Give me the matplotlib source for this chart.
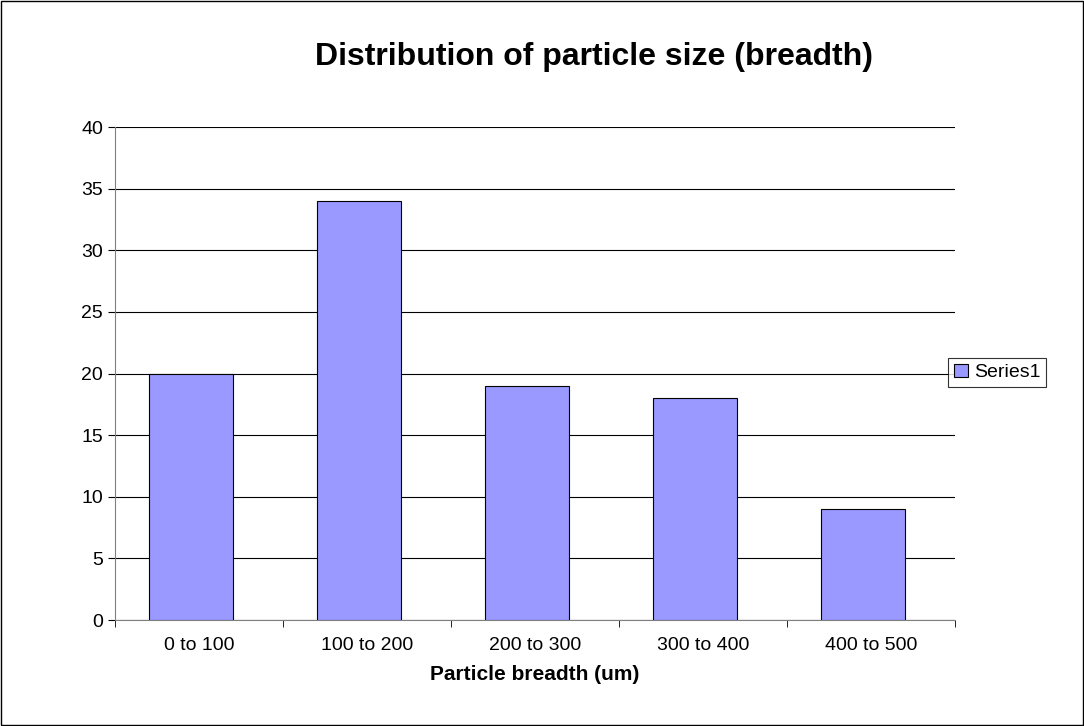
import matplotlib.pyplot as plt
import numpy as np

categories = ["0 to 100", "100 to 200", "200 to 300", "300 to 400", "400 to 500"]
counts = [20, 34, 19, 18, 9]

plt.rcParams['font.family'] = ['Liberation Sans', 'DejaVu Sans']

fig = plt.figure(figsize=(10.84, 7.26), dpi=100)
ax = fig.add_axes([0.1061, 0.146, 0.7749, 0.679])

x = np.arange(len(categories))
ax.bar(x - 0.05, counts, width=0.5, color='#9999FF', edgecolor='black', linewidth=0.8,
       label='Series1', zorder=3)

ax.set_xlim(-0.5, len(categories) - 0.5)
ax.set_ylim(0, 40)
ax.set_yticks(range(0, 41, 5))
ax.yaxis.grid(True, color='black', linewidth=0.8, zorder=0)
ax.set_xticks(x)
ax.set_xticklabels(categories)
ax.set_xticks(np.arange(-0.5, len(categories)), minor=True)
ax.tick_params(axis='x', which='major', length=0, labelsize=14, pad=12)
ax.tick_params(axis='x', which='minor', length=5, direction='out')
ax.tick_params(axis='y', length=5, direction='out', labelsize=14)
for s in ['top', 'right']:
    ax.spines[s].set_visible(False)
ax.spines['left'].set_color('#808080')
ax.spines['bottom'].set_color('#808080')

ax.set_xlabel('Particle breadth (um)', fontsize=15, fontweight='bold', labelpad=8)
fig.text(0.548, 0.922, 'Distribution of particle size (breadth)', ha='center',
         va='center', fontsize=23, fontweight='bold')

leg = fig.legend(loc='center left', bbox_to_anchor=(0.866, 0.487), fontsize=14,
                 frameon=True, fancybox=False, edgecolor='black',
                 handlelength=0.7, handleheight=0.7, handletextpad=0.3,
                 borderpad=0.3)
leg.get_frame().set_linewidth(0.8)

fig.patches.append(plt.Rectangle((0.001, 0.001), 0.998, 0.998, transform=fig.transFigure,
                                 fill=False, edgecolor='black', linewidth=1))

fig.savefig('out.png', dpi=100)
